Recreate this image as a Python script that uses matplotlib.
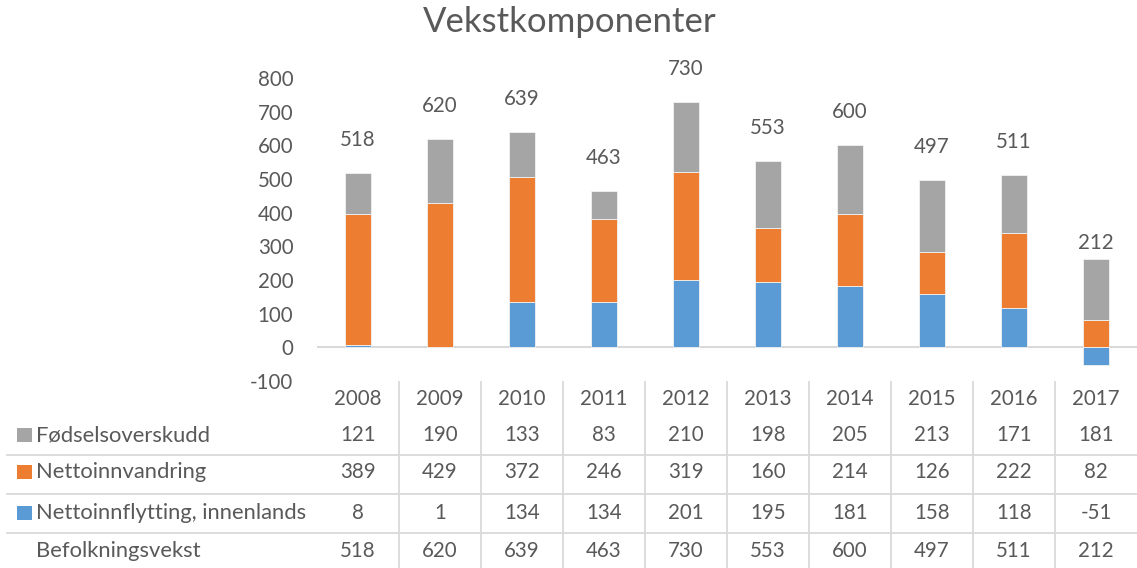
import matplotlib
matplotlib.use("Agg")
import matplotlib.pyplot as plt
import matplotlib.transforms as mtransforms
from matplotlib.lines import Line2D
from matplotlib.patches import Rectangle
import numpy as np

years = ["2008", "2009", "2010", "2011", "2012", "2013", "2014", "2015", "2016", "2017"]
fodsel = [121, 190, 133, 83, 210, 198, 205, 213, 171, 181]
innvandring = [389, 429, 372, 246, 319, 160, 214, 126, 222, 82]
innflytting = [8, 1, 134, 134, 201, 195, 181, 158, 118, -51]
vekst = [518, 620, 639, 463, 730, 553, 600, 497, 511, 212]
yticks = [-100, 0, 100, 200, 300, 400, 500, 600, 700, 800]

names = ["Fødselsoverskudd", "Nettoinnvandring", "Nettoinnflytting, innenlands", "Befolkningsvekst"]
colors = {"grey": "#A5A5A5", "orange": "#ED7D31", "blue": "#5B9BD5"}
txt = "#595959"
line_c = "#D9D9D9"

plt.rcParams['font.family'] = ['Lato', 'DejaVu Sans']
W, H = 1137, 568
fig = plt.figure(figsize=(W / 100, H / 100), dpi=100)
ax = fig.add_axes([317 / W, 1 - 381 / H, (1137 - 317) / W, (381 - 78) / H])

NUM = 14.8
LAB = 15.8

x = np.arange(len(years))
pos_bottom = np.zeros(len(years))
neg_bottom = np.zeros(len(years))
for vals, col in [(innflytting, colors["blue"]), (innvandring, colors["orange"]), (fodsel, colors["grey"])]:
    v = np.array(vals, dtype=float)
    bottoms = np.where(v >= 0, pos_bottom, neg_bottom)
    ax.bar(x, v, width=0.32, bottom=bottoms, color=col, edgecolor="#F2F2F2", linewidth=0.6, zorder=3)
    pos_bottom = pos_bottom + np.where(v >= 0, v, 0)
    neg_bottom = neg_bottom + np.where(v < 0, v, 0)

for xi, v in zip(x, vekst):
    ax.annotate(str(v), (xi, v), xytext=(0, 23.8), textcoords="offset points",
                ha="center", va="center", fontsize=NUM, color=txt)

ax.set_xlim(-0.5, len(years) - 0.5)
ax.set_ylim(-100, 800)
ax.set_yticks(yticks)
ax.set_yticklabels([str(t) for t in yticks])
ax.tick_params(axis="y", length=0, pad=17, labelsize=NUM, labelcolor=txt)
ax.set_xticks([])
for s in ax.spines.values():
    s.set_visible(False)
ax.axhline(0, color=line_c, lw=1.5, zorder=2)

fig.text(570 / W, 1 - 22 / H, "Vekstkomponenter",
         ha="center", va="center", fontsize=25, color=txt)

# data table
tr = mtransforms.blended_transform_factory(ax.transData, fig.transFigure)
fy = lambda py: 1 - py / H
for xi, yr in zip(x, years):
    ax.text(xi, fy(399), yr, transform=tr, ha="center", va="center", fontsize=NUM, color=txt, clip_on=False)
rows = [(fodsel, 435, colors["grey"]), (innvandring, 472, colors["orange"]),
        (innflytting, 513, colors["blue"]), (vekst, 551, None)]
for (vals, py, col), name in zip(rows, names):
    for xi, v in zip(x, vals):
        ax.text(xi, fy(py), str(v), transform=tr, ha="center", va="center", fontsize=NUM, color=txt, clip_on=False)
    fig.text(36 / W, fy(py), name, ha="left", va="center", fontsize=LAB, color=txt)
    if col is not None:
        fig.patches.append(Rectangle((17 / W, fy(py + 7)), 15 / W, 14 / H, transform=fig.transFigure,
                                     facecolor=col, edgecolor="none"))
for py in [455, 494, 533]:
    fig.add_artist(Line2D([7 / W, 1.0], [fy(py), fy(py)], transform=fig.transFigure, color=line_c, lw=1.3))
for xi in x[:-1]:
    ax.add_artist(Line2D([xi + 0.5, xi + 0.5], [fy(382), fy(568)], transform=tr, color=line_c, lw=1.3, clip_on=False))

fig.savefig("out.png", dpi=100)
